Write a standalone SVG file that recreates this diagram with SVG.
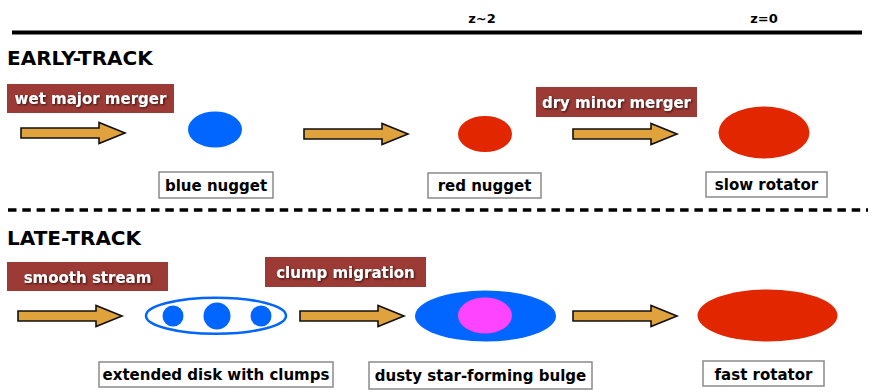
<svg xmlns="http://www.w3.org/2000/svg" xmlns:xlink="http://www.w3.org/1999/xlink" width="872" height="392" viewBox="0 0 872 392">
<style>
  text { font-family: "DejaVu Sans", "Liberation Sans", sans-serif; font-weight: bold; }
  .z { font-size: 13px; fill: #000; text-anchor: middle; }
  .track { font-size: 20px; fill: #000; }
  .proc rect { fill: #9c3b35; }
  .proc text { font-size: 15px; fill: #fff; text-anchor: middle; filter: url(#ts); }
  .lab rect { fill: #fff; stroke: #8a8a8a; stroke-width: 1.5; }
  .lab text { font-size: 15px; fill: #000; text-anchor: middle; }
  .arrow { fill: #e0a23c; stroke: #111; stroke-width: 1.6; stroke-linejoin: miter; }
  .blue { fill: #0066ff; }
  .red { fill: #e12600; }
  .pink { fill: #ff44ff; }
</style>
<defs>
  <filter id="ts" x="-10%" y="-30%" width="120%" height="160%">
    <feDropShadow dx="1" dy="1" stdDeviation="0.8" flood-color="#2a0a08" flood-opacity="0.9"/>
  </filter>
  <path id="arr" d="M0,-5 H78 V-10.5 L104,0 L78,10.5 V5 H0 Z"/>
</defs>
<rect width="872" height="392" fill="#fff"/>

<g id="timeline">
  <line x1="12" y1="32.5" x2="862" y2="32.5" stroke="#000" stroke-width="4"/>
  <text class="z" x="482" y="22.5">z~2</text>
  <text class="z" x="764" y="22.5">z=0</text>
</g>
<line id="divider" x1="8" y1="210" x2="868" y2="210" stroke="#000" stroke-width="3.5" stroke-dasharray="8.5 5.8"/>
<text class="track" x="7" y="65">EARLY-TRACK</text>
<text class="track" x="7" y="245">LATE-TRACK</text>

<g id="connectors">
  <use xlink:href="#arr" class="arrow" transform="translate(21,133)"/>
  <use xlink:href="#arr" class="arrow" transform="translate(304,134)"/>
  <use xlink:href="#arr" class="arrow" transform="translate(573,134)"/>
  <use xlink:href="#arr" class="arrow" transform="translate(18,316)"/>
  <use xlink:href="#arr" class="arrow" transform="translate(300,316)"/>
  <use xlink:href="#arr" class="arrow" transform="translate(573,316)"/>
</g>

<g id="wet-major-merger" class="proc">
  <rect x="7" y="84" width="167" height="29"/>
  <text x="90.5" y="104">wet major merger</text>
</g>
<g id="dry-minor-merger" class="proc">
  <rect x="536" y="87" width="161" height="30"/>
  <text x="616.5" y="107.5">dry minor merger</text>
</g>
<g id="smooth-stream" class="proc">
  <rect x="7" y="262" width="161" height="29"/>
  <text x="87.5" y="282.5">smooth stream</text>
</g>
<g id="clump-migration" class="proc">
  <rect x="265" y="257" width="161" height="30"/>
  <text x="345.5" y="277.5">clump migration</text>
</g>

<g id="blue-nugget">
  <ellipse class="blue" cx="215" cy="129.5" rx="27" ry="18"/>
  <g class="lab">
    <rect x="159" y="172" width="114" height="26"/>
    <text x="216" y="190.5">blue nugget</text>
  </g>
</g>
<g id="red-nugget">
  <ellipse class="red" cx="485" cy="134" rx="27" ry="18"/>
  <g class="lab">
    <rect x="428" y="173" width="113" height="25"/>
    <text x="484.5" y="191">red nugget</text>
  </g>
</g>
<g id="slow-rotator">
  <ellipse class="red" cx="764" cy="132.5" rx="45.5" ry="26"/>
  <g class="lab">
    <rect x="706" y="172" width="121" height="25"/>
    <text x="766.5" y="190">slow rotator</text>
  </g>
</g>
<g id="extended-disk">
  <ellipse cx="216" cy="315.7" rx="70" ry="18" fill="none" stroke="#0066ff" stroke-width="2.5"/>
  <circle class="blue" cx="173" cy="316" r="10.5"/>
  <circle class="blue" cx="217" cy="316" r="13.5"/>
  <circle class="blue" cx="261" cy="316" r="10.5"/>
  <g class="lab">
    <rect x="99" y="362" width="234" height="25"/>
    <text x="216" y="380">extended disk with clumps</text>
  </g>
</g>
<g id="dusty-bulge">
  <ellipse class="blue" cx="485.5" cy="316" rx="70.5" ry="25.5"/>
  <ellipse class="pink" cx="485" cy="315.5" rx="27" ry="18"/>
  <g class="lab">
    <rect x="369" y="362" width="223" height="27"/>
    <text x="480.5" y="381">dusty star-forming bulge</text>
  </g>
</g>
<g id="fast-rotator">
  <ellipse class="red" cx="767.5" cy="315.5" rx="70" ry="26"/>
  <g class="lab">
    <rect x="703" y="361" width="121" height="25"/>
    <text x="763.5" y="379.5">fast rotator</text>
  </g>
</g>
</svg>
